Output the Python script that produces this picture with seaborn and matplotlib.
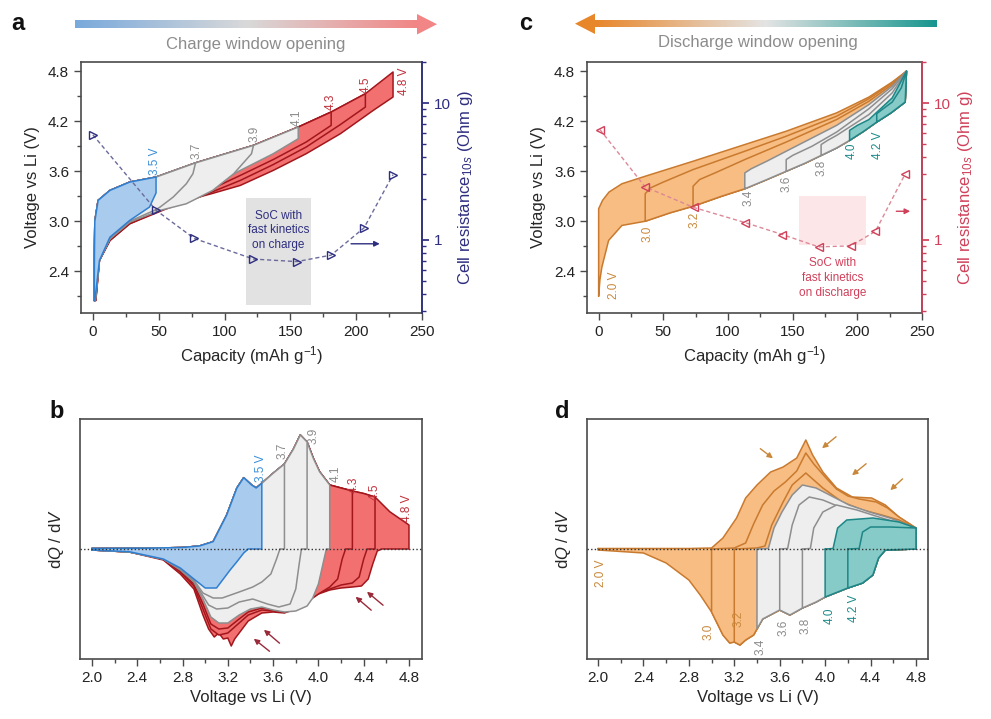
import numpy as np
import matplotlib
matplotlib.use("Agg")
import matplotlib.pyplot as plt
import seaborn as sns
from matplotlib.patches import Rectangle, Polygon
from matplotlib.colors import LinearSegmentedColormap
from matplotlib.ticker import FixedLocator, FixedFormatter, LogLocator, NullFormatter, MultipleLocator

# ---------------- panel a: charge window opening (V vs capacity) ----------------
a_cut_v = [3.5, 3.7, 3.9, 4.1, 4.3, 4.5, 4.8]
a_cut_q = [48, 78, 122, 156, 181, 207, 228]
a_labels = ["3.5 V", "3.7", "3.9", "4.1", "4.3", "4.5", "4.8 V"]
a_groups = ["blue", "gray", "gray", "gray", "red", "red", "red"]

a_charge_q = [1, 1.2, 1.5, 4, 13, 28, 48, 78, 122, 156, 181, 207, 228]
a_charge_v = [2.05, 2.6, 3.0, 3.25, 3.37, 3.47, 3.53, 3.70, 3.91, 4.13, 4.31, 4.53, 4.79]

a_dis_q = [
    [48, 48, 43, 28, 13, 5, 1.5],
    [78, 76, 71, 61, 51, 48, 28, 13, 5, 1.6],
    [122, 120.5, 107, 91, 71, 51, 28, 13, 5, 1.8],
    [156, 156, 137, 112, 81, 56, 48, 28, 13, 5, 2],
    [181, 181, 162, 137, 112, 81, 56, 28, 13, 5, 2.1],
    [207, 207, 188, 162, 137, 112, 81, 56, 28, 13, 5, 2.2],
    [228, 228, 213, 188, 162, 137, 112, 90, 66, 48, 28, 13, 5, 2.3],
]
a_dis_v = [
    [3.53, 3.34, 3.17, 3.01, 2.81, 2.53, 2.05],
    [3.70, 3.57, 3.45, 3.29, 3.17, 3.14, 3.00, 2.80, 2.53, 2.05],
    [3.91, 3.81, 3.57, 3.37, 3.21, 3.13, 2.99, 2.79, 2.53, 2.05],
    [4.13, 3.99, 3.81, 3.61, 3.35, 3.17, 3.13, 2.99, 2.79, 2.53, 2.05],
    [4.31, 4.15, 3.95, 3.74, 3.55, 3.32, 3.16, 2.98, 2.78, 2.53, 2.05],
    [4.53, 4.37, 4.16, 3.89, 3.68, 3.49, 3.29, 3.15, 2.97, 2.77, 2.53, 2.05],
    [4.79, 4.49, 4.33, 4.05, 3.81, 3.61, 3.43, 3.33, 3.23, 3.11, 2.97, 2.77, 2.53, 2.05],
]

a_res_q = [0, 48, 77, 122, 155, 181, 206, 228]
a_res_ohm = [5.86, 1.64, 1.02, 0.72, 0.69, 0.77, 1.22, 2.99]

# ---------------- panel b: dQ/dV, charge window ----------------
b_cut_v = [3.5, 3.7, 3.9, 4.1, 4.3, 4.5, 4.8]
b_chg_v = [2.0, 2.5, 2.8, 2.95, 3.07, 3.19, 3.28, 3.34, 3.41, 3.45, 3.5, 3.6, 3.7,
           3.78, 3.84, 3.9, 3.955, 4.01, 4.1, 4.2, 4.3, 4.4, 4.5, 4.63, 4.8]
b_chg_y = [0.005, 0.008, 0.015, 0.03, 0.073, 0.34, 0.61, 0.713, 0.64, 0.61, 0.657, 0.757, 0.85,
           1.0, 1.14, 1.07, 0.907, 0.773, 0.64, 0.61, 0.58, 0.555, 0.52, 0.373, 0.24]
b_dis_v = [
    [2.0, 2.33, 2.63, 2.78, 2.9, 3.0, 3.1, 3.16, 3.22, 3.28, 3.34, 3.38, 3.5],
    [2.0, 2.33, 2.63, 2.78, 2.9, 2.98, 3.07, 3.15, 3.3, 3.42, 3.5, 3.58, 3.63, 3.66, 3.7],
    [2.0, 2.33, 2.63, 2.78, 2.9, 2.97, 3.03, 3.1, 3.2, 3.3, 3.42, 3.55, 3.65, 3.75, 3.8, 3.83, 3.85, 3.9],
    [2.0, 2.33, 2.63, 2.78, 2.9, 2.98, 3.05, 3.12, 3.2, 3.3, 3.4, 3.5, 3.6, 3.7, 3.8, 3.9, 3.95, 4.0,
     4.04, 4.07, 4.1],
    [2.0, 2.33, 2.63, 2.78, 2.9, 2.98, 3.05, 3.12, 3.2, 3.3, 3.38, 3.5, 3.6, 3.7, 3.8, 3.9, 4.0, 4.1,
     4.17, 4.21, 4.24, 4.3],
    [2.0, 2.33, 2.63, 2.78, 2.9, 2.98, 3.05, 3.12, 3.2, 3.3, 3.38, 3.5, 3.6, 3.7, 3.8, 3.9, 4.0, 4.1,
     4.2, 4.3, 4.36, 4.4, 4.43, 4.5],
    [2.0, 2.33, 2.63, 2.78, 2.9, 2.98, 3.03, 3.08, 3.12, 3.16, 3.2, 3.23, 3.26, 3.3, 3.38, 3.5, 3.6,
     3.7, 3.8, 3.9, 4.0, 4.1, 4.2, 4.3, 4.38, 4.44, 4.48, 4.52, 4.56, 4.8],
]
b_dis_y = [
    [-0.01, -0.027, -0.1, -0.19, -0.3, -0.39, -0.39, -0.3, -0.21, -0.127, -0.04, 0.0, 0.0],
    [-0.01, -0.03, -0.1, -0.2, -0.31, -0.44, -0.49, -0.49, -0.43, -0.38, -0.33, -0.25, -0.1, 0, 0],
    [-0.01, -0.03, -0.1, -0.2, -0.32, -0.45, -0.56, -0.6, -0.59, -0.53, -0.5, -0.55, -0.58, -0.55,
     -0.4, -0.15, 0, 0],
    [-0.01, -0.03, -0.1, -0.21, -0.33, -0.5, -0.68, -0.74, -0.74, -0.66, -0.6, -0.58, -0.61, -0.63,
     -0.62, -0.57, -0.49, -0.35, -0.15, 0, 0],
    [-0.01, -0.03, -0.1, -0.22, -0.35, -0.55, -0.75, -0.8, -0.79, -0.7, -0.63, -0.59, -0.61, -0.63,
     -0.6, -0.53, -0.45, -0.38, -0.3, -0.1, 0, 0],
    [-0.01, -0.03, -0.1, -0.23, -0.37, -0.6, -0.8, -0.86, -0.84, -0.74, -0.66, -0.61, -0.62, -0.63,
     -0.6, -0.52, -0.44, -0.4, -0.36, -0.34, -0.28, -0.1, 0, 0],
    [-0.01, -0.03, -0.11, -0.25, -0.4, -0.66, -0.8, -0.88, -0.84, -0.9, -0.89, -0.97, -0.9, -0.84,
     -0.72, -0.64, -0.63, -0.64, -0.6, -0.52, -0.45, -0.41, -0.39, -0.38, -0.37, -0.3, -0.15, -0.02,
     0, 0],
]

# ---------------- panel c: discharge window opening (V vs capacity) ----------------
c_cut_v = [2.0, 3.0, 3.2, 3.4, 3.6, 3.8, 4.0, 4.2]
c_cut_q = [0, 36, 73, 113, 145, 172, 194, 215]
c_labels = ["2.0 V", "3.0", "3.2", "3.4", "3.6", "3.8", "4.0", "4.2 V"]
c_groups = ["orange", "orange", "orange", "gray", "gray", "gray", "teal", "teal"]

c_low_q = [0, 1, 2.5, 7.7, 18, 36, 55, 73, 95, 113, 130, 145, 160, 172, 184, 194, 205, 215, 226, 237]
c_low_v = [2.1, 2.3, 2.45, 2.77, 2.95, 3.0, 3.1, 3.18, 3.3, 3.39, 3.5, 3.6, 3.7, 3.79, 3.88, 3.97,
           4.08, 4.19, 4.3, 4.43]
c_up_q = [
    [0, 3, 8, 18, 36, 73, 113, 145, 184, 209, 227, 238],
    [36, 40, 50, 73, 113, 145, 184, 209, 227, 238],
    [73, 78, 90, 113, 145, 184, 209, 227, 238],
    [113, 118, 130, 145, 184, 209, 227, 238],
    [145, 150, 165, 184, 209, 227, 238],
    [172, 177, 184, 209, 227, 238],
    [194, 200, 209, 227, 238],
    [215, 220, 227, 234, 238],
]
c_up_v = [
    [3.15, 3.25, 3.35, 3.45, 3.54, 3.72, 3.92, 4.08, 4.3, 4.49, 4.67, 4.8],
    [3.33, 3.40, 3.47, 3.62, 3.84, 4.02, 4.26, 4.47, 4.66, 4.8],
    [3.42, 3.50, 3.58, 3.74, 3.95, 4.22, 4.44, 4.64, 4.8],
    [3.58, 3.63, 3.72, 3.84, 4.15, 4.40, 4.62, 4.8],
    [3.74, 3.79, 3.90, 4.07, 4.35, 4.59, 4.8],
    [3.92, 3.97, 4.03, 4.28, 4.54, 4.8],
    [4.09, 4.15, 4.22, 4.48, 4.8],
    [4.29, 4.35, 4.43, 4.6, 4.8],
]

c_res_q = [1, 36, 73.5, 113.5, 142, 170, 195, 214, 237]
c_res_ohm = [6.4, 2.43, 1.72, 1.33, 1.09, 0.885, 0.90, 1.15, 3.03]

# ---------------- panel d: dQ/dV, discharge window ----------------
d_cut_v = [2.0, 3.0, 3.2, 3.4, 3.6, 3.8, 4.0, 4.2]
d_dis_v = [2.0, 2.4, 2.6, 2.8, 2.9, 3.0, 3.1, 3.16, 3.2, 3.25, 3.3, 3.37, 3.4, 3.45, 3.6, 3.69,
           3.8, 3.92, 4.0, 4.2, 4.33, 4.42, 4.47, 4.53, 4.8]
d_dis_y = [-0.01, -0.04, -0.14, -0.31, -0.46, -0.63, -0.86, -0.94, -0.93, -0.96, -0.91, -0.86,
           -0.8, -0.7, -0.61, -0.66, -0.59, -0.53, -0.48, -0.39, -0.34, -0.26, -0.09, -0.01, 0.0]
d_chg_v = [
    [2.0, 2.8, 3.0, 3.1, 3.22, 3.3, 3.4, 3.52, 3.63, 3.75, 3.83, 3.89, 3.98, 4.1, 4.24, 4.41, 4.53,
     4.65, 4.8],
    [3.0, 3.2, 3.3, 3.37, 3.45, 3.55, 3.65, 3.75, 3.83, 3.9, 4.0, 4.1, 4.2, 4.3, 4.45, 4.55, 4.65, 4.8],
    [3.2, 3.4, 3.47, 3.53, 3.63, 3.71, 3.83, 3.98, 4.15, 4.33, 4.5, 4.65, 4.8],
    [3.4, 3.5, 3.55, 3.62, 3.71, 3.8, 3.92, 4.04, 4.21, 4.39, 4.57, 4.8],
    [3.6, 3.67, 3.71, 3.77, 3.86, 3.98, 4.15, 4.36, 4.57, 4.8],
    [3.8, 3.87, 3.9, 3.98, 4.1, 4.28, 4.5, 4.8],
    [4.0, 4.07, 4.11, 4.19, 4.42, 4.65, 4.8],
    [4.2, 4.3, 4.33, 4.4, 4.57, 4.8],
]
d_chg_y = [
    [0.005, 0.005, 0.01, 0.11, 0.31, 0.51, 0.64, 0.77, 0.82, 0.91, 1.09, 0.94, 0.77, 0.61, 0.52,
     0.51, 0.44, 0.32, 0.21],
    [0, 0.01, 0.06, 0.25, 0.44, 0.58, 0.67, 0.78, 0.96, 0.85, 0.72, 0.6, 0.53, 0.5, 0.47, 0.41,
     0.32, 0.21],
    [0, 0.01, 0.03, 0.24, 0.47, 0.64, 0.76, 0.61, 0.47, 0.39, 0.34, 0.29, 0.21],
    [0, 0.005, 0.21, 0.37, 0.54, 0.64, 0.61, 0.54, 0.44, 0.37, 0.31, 0.21],
    [0, 0.005, 0.24, 0.44, 0.52, 0.49, 0.41, 0.34, 0.27, 0.21],
    [0, 0.005, 0.21, 0.37, 0.44, 0.39, 0.31, 0.21],
    [0, 0.005, 0.21, 0.29, 0.31, 0.27, 0.21],
    [0, 0.005, 0.17, 0.22, 0.22, 0.21],
]

# ---------------- style ----------------
sns.set_theme(style="ticks")
plt.rcParams["font.family"] = ["Liberation Sans", "DejaVu Sans"]
plt.rcParams["mathtext.fontset"] = "custom"
plt.rcParams["mathtext.rm"] = "Liberation Sans"
plt.rcParams["mathtext.it"] = "Liberation Sans:italic"
plt.rcParams["mathtext.bf"] = "Liberation Sans:bold"

FILL = {"blue": "#a9cbee", "gray": "#eeeeee", "red": "#f27070",
        "orange": "#f7bd83", "teal": "#86cbc7"}
LINE = {"blue": "#2f7fd0", "gray": "#8e8e8e", "red": "#a3161c",
        "orange": "#c97a2e", "teal": "#1d8686"}
TEXT = {"blue": "#3a8fd8", "gray": "#8a8a8a", "red": "#c0303a",
        "orange": "#c8883c", "teal": "#1d8a8a"}
SPINE = "#4a4a4a"
NAVY = "#2e2e80"
CRIMSON = "#d0405a"

W, H = 991, 719
fig = plt.figure(figsize=(W / 100, H / 100), dpi=100)


def px_axes(l, t, r, b):
    return fig.add_axes([l / W, 1 - b / H, (r - l) / W, (b - t) / H])


def style_axes(ax):
    for s in ax.spines.values():
        s.set_color(SPINE)
        s.set_linewidth(1.2)
    ax.tick_params(which="both", direction="out", color=SPINE, labelcolor="#222222",
                   labelsize=11, width=1.0)
    ax.tick_params(which="major", length=5)
    ax.tick_params(which="minor", length=3)


# decoration layer (gradient arrows, titles, panel letters)
deco = fig.add_axes([0, 0, 1, 1])
deco.set_xlim(0, W)
deco.set_ylim(H, 0)
deco.axis("off")


def gradient_arrow(x0, x1, y0, y1, colors, head):
    cmap = LinearSegmentedColormap.from_list("g", colors)
    grad = cmap(np.linspace(0, 1, 256))[None, :, :]
    deco.imshow(grad, extent=[x0, x1, y1, y0], aspect="auto", interpolation="bicubic")
    deco.add_patch(Polygon(head, closed=True, color=colors[0] if head[1][0] < x0 else colors[-1], lw=0))


gradient_arrow(75, 418, 20.5, 28, ["#79a9dc", "#d9d9d9", "#f28585"],
               [(417, 14), (437, 24.2), (417, 34.5)])
gradient_arrow(594, 937, 20.5, 27, ["#e8862a", "#e4e4e4", "#17958f"],
               [(595, 13.5), (575, 23.7), (595, 34)])
deco.text(256, 45, "Charge window opening", ha="center", va="center", color="#8c8c8c", fontsize=12)
deco.text(758, 43, "Discharge window opening", ha="center", va="center", color="#8c8c8c", fontsize=12)
for ch, (x, y) in zip("abcd", [(18, 24), (57, 412), (526, 24), (562, 412)]):
    deco.text(x, y, ch, ha="center", va="center", fontsize=17, fontweight="bold", color="#111111")


def resistance_axis(ax, color):
    ax2 = ax.twinx()
    ax2.set_yscale("log")
    ax2.set_ylim(0.29, 20)
    for side in ["left", "top", "bottom"]:
        ax2.spines[side].set_visible(False)
    ax2.spines["right"].set_color(color)
    ax2.spines["right"].set_linewidth(1.2)
    ax2.yaxis.set_major_locator(FixedLocator([1, 10]))
    ax2.yaxis.set_major_formatter(FixedFormatter(["1", "10"]))
    ax2.yaxis.set_minor_locator(LogLocator(base=10, subs=np.arange(2, 10)))
    ax2.yaxis.set_minor_formatter(NullFormatter())
    ax2.tick_params(which="both", direction="out", color=color, labelcolor=color, labelsize=11)
    ax2.tick_params(which="major", length=5)
    ax2.tick_params(which="minor", length=3)
    return ax2


def voltage_axes_setup(ax):
    style_axes(ax)
    ax.set_xlim(-9, 250)
    ax.set_ylim(1.9, 4.91)
    ax.set_xticks([0, 50, 100, 150, 200, 250])
    ax.xaxis.set_minor_locator(MultipleLocator(25))
    ax.set_yticks([2.4, 3.0, 3.6, 4.2, 4.8])
    ax.yaxis.set_minor_locator(MultipleLocator(0.3))
    ax.set_xlabel("Capacity (mAh g$^{-1}$)", fontsize=12, labelpad=4)
    ax.set_ylabel("Voltage vs Li (V)", fontsize=12, labelpad=6)


def dqdv_axes_setup(ax):
    style_axes(ax)
    ax.set_xlim(1.894, 4.915)
    ax.set_ylim(-1.1, 1.3)
    ax.set_xticks([2.0, 2.4, 2.8, 3.2, 3.6, 4.0, 4.4, 4.8])
    ax.xaxis.set_minor_locator(MultipleLocator(0.2))
    ax.set_yticks([])
    ax.set_xlabel("Voltage vs Li (V)", fontsize=12, labelpad=4)
    ax.set_ylabel("d$\\mathit{Q}$ / d$\\mathit{V}$", fontsize=12, labelpad=10)
    ax.axhline(0, color="#333333", lw=1.0, ls=(0, (1, 1.6)), zorder=50)


# ================= panel a =================
ax_a = px_axes(81, 62, 422, 313)
voltage_axes_setup(ax_a)
ax_a.add_patch(Rectangle((116, 1.99), 50, 1.29, color="#e2e2e2", lw=0, zorder=0.5))
ax_a.text(141, 2.89, "SoC with\nfast kinetics\non charge", ha="center", va="center",
          color=NAVY, fontsize=8.5, linespacing=1.3, zorder=2)
z = 1
for i in reversed(range(len(a_cut_v))):
    k = a_charge_q.index(a_cut_q[i])
    xs = a_charge_q[:k + 1] + a_dis_q[i][1:]
    ys = a_charge_v[:k + 1] + a_dis_v[i][1:]
    g = a_groups[i]
    ax_a.fill(xs, ys, color=FILL[g], lw=0, zorder=z)
    ax_a.plot(xs + [xs[0]], ys + [ys[0]], color=LINE[g], lw=1.1, zorder=z + 0.5)
    z += 1
a_label_off = [(-1, 0.05, "bottom"), (1, 0.05, "bottom"), (1, 0.05, "bottom"),
               (-1, 0.04, "bottom"), (0, 0.03, "bottom"), (0, 0.04, "bottom"), (8, -0.12, "center")]
for i, lab in enumerate(a_labels):
    dx, dy, va = a_label_off[i]
    ax_a.text(a_cut_q[i] + dx, a_cut_v[i] + dy, lab, rotation=90, ha="center", va=va,
              color=TEXT[a_groups[i]], fontsize=8.5, zorder=30)
ax_a.annotate("", xy=(220, 2.73), xytext=(194, 2.73),
              arrowprops=dict(arrowstyle="-|>", color=NAVY, lw=1.0, mutation_scale=8), zorder=30)

ax_a2 = resistance_axis(ax_a, NAVY)
sns.lineplot(x=a_res_q, y=a_res_ohm, ax=ax_a2, color="#6a6a9c", lw=1.0, linestyle=(0, (3, 2)),
             marker=">", markersize=6, markerfacecolor="none", markeredgecolor=NAVY,
             markeredgewidth=1.0, sort=False)
ax_a2.set_ylim(0.29, 20)
ax_a2.set_ylabel("Cell resistance$_{10s}$ (Ohm g)", color=NAVY, fontsize=12, labelpad=4)

# ================= panel c =================
ax_c = px_axes(587, 62, 922, 313)
voltage_axes_setup(ax_c)
ax_c.add_patch(Rectangle((155, 2.71), 52, 0.59, color="#fde6e8", lw=0, zorder=0.5))
ax_c.text(181, 2.32, "SoC with\nfast kinetics\non discharge", ha="center", va="center",
          color=CRIMSON, fontsize=8.5, linespacing=1.3, zorder=2)
z = 1
for i in range(len(c_cut_v)):
    k = c_low_q.index(c_cut_q[i])
    xs = c_low_q[k:] + c_up_q[i][::-1]
    ys = c_low_v[k:] + c_up_v[i][::-1]
    g = c_groups[i]
    ax_c.fill(xs, ys, color=FILL[g], lw=0, zorder=z)
    ax_c.plot(xs + [xs[0]], ys + [ys[0]], color=LINE[g], lw=1.1, zorder=z + 0.5)
    z += 1
c_label_off = [(11.5, 0.07, "bottom"), (2, -0.05, "top"), (1, -0.09, "top"), (3, -0.02, "top"),
               (0.5, -0.05, "top"), (0, -0.06, "top"), (2, -0.05, "top"), (1, -0.12, "top")]
for i, lab in enumerate(c_labels):
    dx, dy, va = c_label_off[i]
    ax_c.text(c_cut_q[i] + dx, c_cut_v[i] + dy, lab, rotation=90, ha="center", va=va,
              color=TEXT[c_groups[i]], fontsize=8.5, zorder=30)
ax_c.annotate("", xy=(243, 3.12), xytext=(228, 3.12),
              arrowprops=dict(arrowstyle="-|>", color=CRIMSON, lw=1.0, mutation_scale=8), zorder=30)

ax_c2 = resistance_axis(ax_c, CRIMSON)
sns.lineplot(x=c_res_q, y=c_res_ohm, ax=ax_c2, color="#dc8896", lw=1.0, linestyle=(0, (3, 2)),
             marker="<", markersize=6, markerfacecolor="none", markeredgecolor=CRIMSON,
             markeredgewidth=1.0, sort=False)
ax_c2.set_ylim(0.29, 20)
ax_c2.set_ylabel("Cell resistance$_{10s}$ (Ohm g)", color=CRIMSON, fontsize=12, labelpad=4)

# ================= panel b =================
ax_b = px_axes(80, 419, 422, 659)
dqdv_axes_setup(ax_b)
z = 1
for i in reversed(range(len(b_cut_v))):
    k = b_chg_v.index(b_cut_v[i])
    xs = b_chg_v[:k + 1] + b_dis_v[i][::-1]
    ys = b_chg_y[:k + 1] + b_dis_y[i][::-1]
    g = a_groups[i]
    ax_b.fill(xs, ys, color=FILL[g], lw=0, zorder=z)
    ax_b.plot(xs + [xs[0]], ys + [ys[0]], color=LINE[g], lw=1.1, zorder=z + 0.5)
    z += 1
b_label_pos = [(3.49, 0.67), (3.68, 0.9), (3.96, 1.05), (4.15, 0.67), (4.31, 0.56), (4.5, 0.49), (4.78, 0.27)]
for i, lab in enumerate(a_labels):
    ax_b.text(b_label_pos[i][0], b_label_pos[i][1], lab, rotation=90, ha="center", va="bottom",
              color=TEXT[a_groups[i]], fontsize=8.5, zorder=30)
for (x0, y0), (x1, y1) in [((3.587, -1.04), (3.41, -0.88)), ((3.675, -0.96), (3.50, -0.79)),
                           ((4.485, -0.63), (4.31, -0.46)), ((4.59, -0.58), (4.41, -0.41))]:
    ax_b.annotate("", xy=(x1, y1), xytext=(x0, y0),
                  arrowprops=dict(arrowstyle="-|>", color="#9a2a3a", lw=1.0, mutation_scale=8), zorder=30)

# ================= panel d =================
ax_d = px_axes(587, 419, 928, 659)
dqdv_axes_setup(ax_d)
ax_d.set_xlim(1.903, 4.906)
z = 1
for i in range(len(d_cut_v)):
    k = d_dis_v.index(d_cut_v[i])
    xs = d_chg_v[i] + d_dis_v[k:][::-1]
    ys = d_chg_y[i] + d_dis_y[k:][::-1]
    g = c_groups[i]
    ax_d.fill(xs, ys, color=FILL[g], lw=0, zorder=z)
    ax_d.plot(xs + [xs[0]], ys + [ys[0]], color=LINE[g], lw=1.1, zorder=z + 0.5)
    z += 1
d_label_pos = [(2.03, -0.24), (2.97, -0.83), (3.24, -0.70), (3.43, -0.98), (3.63, -0.79),
               (3.83, -0.77), (4.04, -0.67), (4.25, -0.59)]
for i, lab in enumerate(c_labels):
    ax_d.text(d_label_pos[i][0], d_label_pos[i][1], lab, rotation=90, ha="center", va="center",
              color=TEXT[c_groups[i]], fontsize=8.5, zorder=30)
for (x0, y0), (x1, y1) in [((3.41, 1.02), (3.56, 0.89)), ((4.115, 1.14), (3.954, 0.99)),
                           ((4.38, 0.87), (4.218, 0.72)), ((4.70, 0.72), (4.556, 0.57))]:
    ax_d.annotate("", xy=(x1, y1), xytext=(x0, y0),
                  arrowprops=dict(arrowstyle="-|>", color="#c9873a", lw=1.0, mutation_scale=8), zorder=30)

fig.savefig("out.png", dpi=100)
